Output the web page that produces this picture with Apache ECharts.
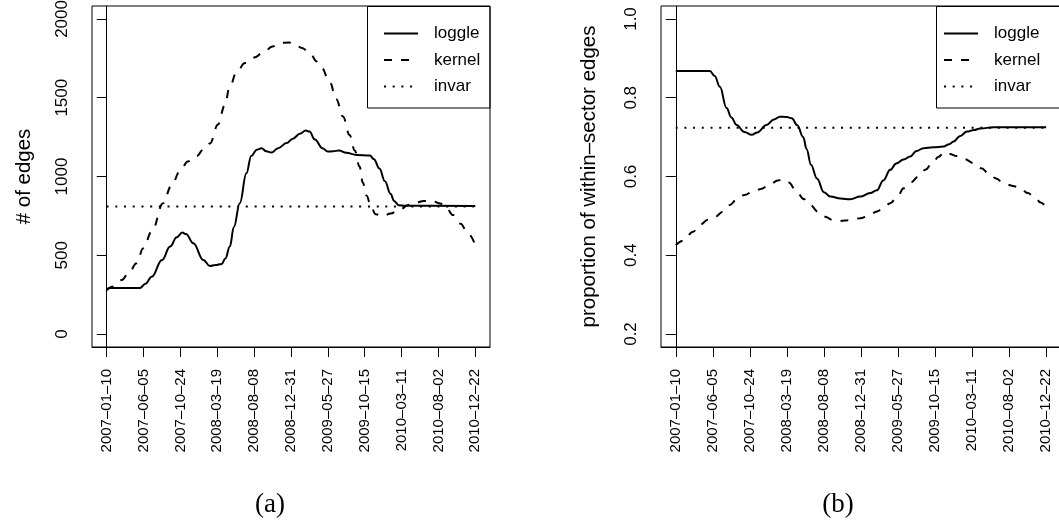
<!DOCTYPE html>
<html>
<head>
<meta charset="utf-8">
<script src="https://cdn.jsdelivr.net/npm/echarts@6/dist/echarts.min.js"></script>
<style>
html,body{margin:0;padding:0;background:#fff;}
#c{width:1059px;height:529px;}
</style>
</head>
<body>
<div id="c"></div>
<script>
// x positions are in tick-index units (0 = first tick label, 10 = last)
const xLabels = ['2007-01-10','2007-06-05','2007-10-24','2008-03-19','2008-08-08','2008-12-31','2009-05-27','2009-10-15','2010-03-11','2010-08-02','2010-12-22'];
const leftTicks = [0, 500, 1000, 1500, 2000];
const rightTicks = [0.2, 0.4, 0.6, 0.8, 1.0];
const seriesNames = ['loggle', 'kernel', 'invar'];

const leftLoggle = [[0,285],[0.1,292],[0.9,292],[1.05,320],[1.22,364],[1.5,470],[1.72,555],[1.9,615],[2.05,644],[2.15,635],[2.35,576],[2.62,470],[2.8,432],[2.95,438],[3.12,445],[3.22,480],[3.34,555],[3.45,680],[3.61,830],[3.79,1020],[3.92,1130],[4.07,1169],[4.2,1180],[4.33,1160],[4.47,1152],[4.65,1180],[4.88,1212],[5.05,1240],[5.24,1271],[5.4,1292],[5.5,1285],[5.65,1235],[5.85,1180],[6.0,1158],[6.14,1160],[6.3,1165],[6.5,1150],[6.78,1137],[7.14,1133],[7.25,1110],[7.4,1050],[7.55,970],[7.7,890],[7.8,845],[7.92,818],[8.1,814],[10,812]];
const leftKernel = [[0,278],[0.15,300],[0.41,343],[0.6,390],[0.81,449],[0.99,544],[1.22,650],[1.53,830],[1.75,940],[1.99,1035],[2.2,1095],[2.44,1130],[2.62,1170],[2.8,1210],[3.02,1330],[3.2,1450],[3.34,1570],[3.52,1660],[3.75,1720],[4.0,1755],[4.24,1785],[4.5,1825],[4.7,1848],[4.95,1850],[5.1,1840],[5.3,1815],[5.51,1784],[5.7,1730],[5.83,1690],[6.05,1600],[6.23,1490],[6.41,1381],[6.59,1264],[6.73,1165],[6.86,1063],[6.95,960],[7.05,880],[7.18,800],[7.3,760],[7.5,748],[7.7,765],[7.95,790],[8.2,820],[8.4,835],[8.6,845],[8.85,843],[9.05,828],[9.2,805],[9.4,755],[9.6,700],[9.8,640],[10,565]];
const leftInvar = [[0,810],[10,810]];

const rightLoggle = [[0,0.868],[0.92,0.868],[1.05,0.855],[1.19,0.828],[1.37,0.774],[1.5,0.75],[1.64,0.731],[1.85,0.713],[2.05,0.706],[2.2,0.712],[2.45,0.731],[2.65,0.745],[2.81,0.752],[3.0,0.751],[3.13,0.748],[3.28,0.73],[3.44,0.70],[3.53,0.67],[3.65,0.63],[3.81,0.595],[4.0,0.56],[4.17,0.549],[4.45,0.544],[4.71,0.542],[4.98,0.549],[5.25,0.558],[5.43,0.565],[5.6,0.59],[5.79,0.617],[5.95,0.633],[6.15,0.643],[6.33,0.651],[6.5,0.665],[6.69,0.672],[6.95,0.674],[7.23,0.676],[7.38,0.682],[7.5,0.689],[7.68,0.703],[7.86,0.714],[8.05,0.718],[8.22,0.722],[8.58,0.725],[10,0.725]];
const rightKernel = [[0,0.426],[0.2,0.437],[0.47,0.460],[0.65,0.478],[0.87,0.490],[1.05,0.497],[1.28,0.511],[1.45,0.527],[1.64,0.541],[1.85,0.553],[2.09,0.562],[2.3,0.568],[2.54,0.580],[2.75,0.590],[2.9,0.593],[3.05,0.585],[3.26,0.562],[3.45,0.543],[3.62,0.528],[3.85,0.51],[4.03,0.498],[4.25,0.489],[4.44,0.487],[4.7,0.489],[4.98,0.494],[5.2,0.500],[5.43,0.511],[5.6,0.52],[5.79,0.532],[6.0,0.552],[6.15,0.570],[6.35,0.585],[6.55,0.600],[6.75,0.618],[6.92,0.634],[7.1,0.650],[7.23,0.661],[7.4,0.657],[7.59,0.652],[7.8,0.644],[8.04,0.634],[8.25,0.621],[8.45,0.608],[8.65,0.595],[8.85,0.583],[9.1,0.576],[9.3,0.570],[9.5,0.558],[9.71,0.545],[9.85,0.534],[10,0.522]];
const rightInvar = [[0,0.724],[10,0.724]];

const FONT = 'Liberation Sans, Arial, sans-serif';
const tickIdx = xLabels.map((_, i) => i);

function xAxisCfg(gi) {
  return {
    type: 'value', gridIndex: gi, min: -0.4, max: 10.4,
    axisLine: { show: true, onZero: false, lineStyle: { color: '#000', width: 1 } },
    axisTick: { show: true, customValues: tickIdx, length: 10, lineStyle: { color: '#000', width: 1 } },
    axisLabel: {
      show: true, customValues: tickIdx, rotate: 90, margin: 22,
      fontSize: 15, fontFamily: FONT, color: '#000',
      formatter: v => xLabels[Math.round(v)].replace(/-/g, '\u2013')
    },
    splitLine: { show: false }
  };
}
function yAxisCfg(gi, min, max, ticks, name, gap, fmt) {
  return {
    type: 'value', gridIndex: gi, min: min, max: max,
    name: name, nameLocation: 'middle', nameGap: gap,
    nameTextStyle: { fontSize: 20.5, fontFamily: FONT, color: '#000' },
    axisLine: { show: true, lineStyle: { color: '#000', width: 1 } },
    axisTick: { show: true, customValues: ticks, length: 10, lineStyle: { color: '#000', width: 1 } },
    axisLabel: { show: true, customValues: ticks, rotate: 90, margin: 21, fontSize: 17, fontFamily: FONT, color: '#000', formatter: fmt },
    splitLine: { show: false }
  };
}
function lineSeries(name, data, gi, type) {
  let ls = { color: '#000', width: 2, cap: 'butt' };
  if (type === 'dashed') { ls.type = [8, 9]; }
  if (type === 'dotted') { ls.type = [2, 6.7]; }
  ls.type = ls.type || 'solid';
  return {
    name: name, type: 'line', xAxisIndex: gi, yAxisIndex: gi, data: data,
    showSymbol: false, symbol: 'none', smooth: 0.4, smoothMonotone: 'x',
    lineStyle: ls, itemStyle: { color: '#000' }, animation: false, silent: true
  };
}
function legendCfg(left) {
  return {
    left: left, top: 25, orient: 'vertical', padding: 0,
    itemWidth: 34, itemHeight: 20, itemGap: 9.5,
    data: seriesNames, selectedMode: false,
    itemStyle: { color: 'rgba(0,0,0,0)', borderWidth: 0, opacity: 0 },
    textStyle: { fontSize: 17, fontFamily: FONT, color: '#000', padding: [0, 0, 0, 11] }
  };
}

const chart = echarts.init(document.getElementById('c'), null, { renderer: 'canvas' });
chart.setOption({
  animation: false,
  backgroundColor: '#fff',
  grid: [
    { left: 92, top: 6, width: 398, height: 341, show: true, borderColor: '#000', borderWidth: 1, backgroundColor: 'transparent', containLabel: false, outerBoundsMode: 'none' },
    { left: 661, top: 6, width: 400, height: 341, show: true, borderColor: '#000', borderWidth: 1, backgroundColor: 'transparent', containLabel: false, outerBoundsMode: 'none' }
  ],
  xAxis: [xAxisCfg(0), xAxisCfg(1)],
  yAxis: [
    yAxisCfg(0, -82, 2082, leftTicks, '# of edges', 57, v => String(v)),
    yAxisCfg(1, 0.167, 1.033, rightTicks, 'proportion of within\u2013sector edges', 61, v => v.toFixed(1))
  ],
  legend: [legendCfg(383), legendCfg(943)],
  series: [
    lineSeries('loggle', leftLoggle, 0, 'solid'),
    lineSeries('kernel', leftKernel, 0, 'dashed'),
    lineSeries('invar', leftInvar, 0, 'dotted'),
    lineSeries('loggle', rightLoggle, 1, 'solid'),
    lineSeries('kernel', rightKernel, 1, 'dashed'),
    lineSeries('invar', rightInvar, 1, 'dotted')
  ],
  graphic: [
    { type: 'rect', shape: { x: 367.5, y: 6.5, width: 122.5, height: 101.5 }, style: { fill: null, stroke: '#000', lineWidth: 1 }, z: 10 },
    { type: 'rect', shape: { x: 936.5, y: 6.5, width: 130, height: 101.5 }, style: { fill: null, stroke: '#000', lineWidth: 1 }, z: 10 },
    { type: 'text', x: 270, y: 505, style: { text: '(a)', fontSize: 27, fontFamily: 'Liberation Serif, DejaVu Serif, serif', fill: '#000', align: 'center', verticalAlign: 'middle' } },
    { type: 'text', x: 838, y: 505, style: { text: '(b)', fontSize: 27, fontFamily: 'Liberation Serif, DejaVu Serif, serif', fill: '#000', align: 'center', verticalAlign: 'middle' } }
  ]
});
</script>
</body>
</html>
